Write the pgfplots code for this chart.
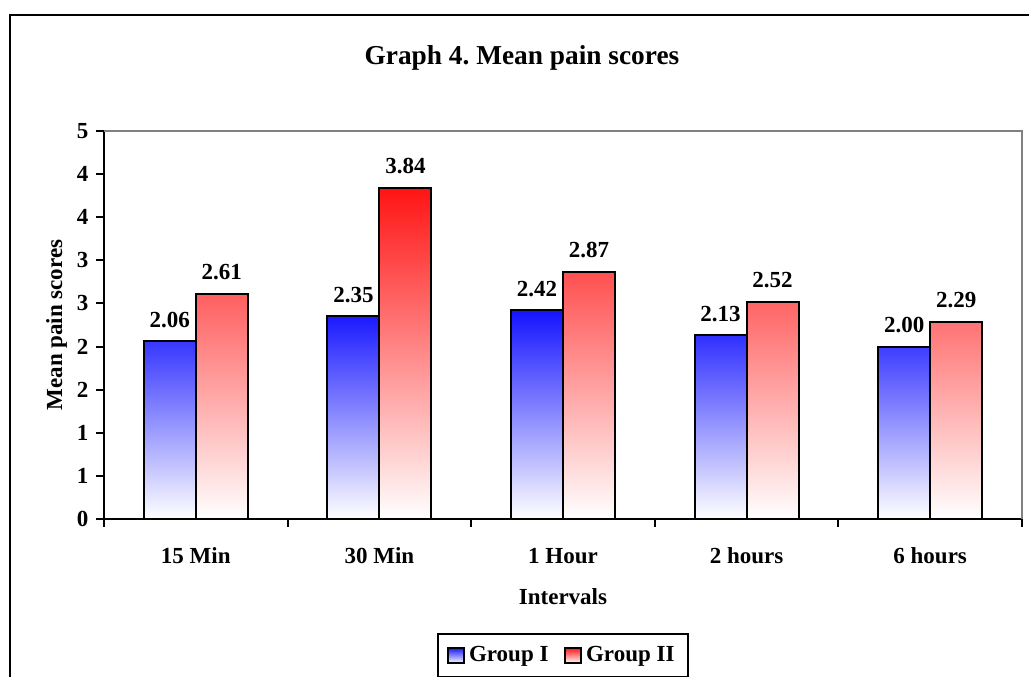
\documentclass[border=0pt]{standalone}
\usepackage{pgfplots}
\pgfplotsset{compat=1.18}
\usepackage{fontspec}
\setmainfont{Liberation Serif}
\frenchspacing

\definecolor{barblue}{RGB}{20,20,255}
\definecolor{barred}{RGB}{255,20,20}
\definecolor{framegray}{RGB}{128,128,128}

\newcommand{\lblfont}{\bfseries\fontsize{10.35}{12}\selectfont}

% small square legend swatch carrying the bar's own shading
\pgfplotsset{
  square legend/.style={
    legend image code/.code={\draw[##1, line width=0.9pt] (0pt,-3.5pt) rectangle (7pt,3.5pt);}
  }
}

\begin{document}
\begin{tikzpicture}
\begin{axis}[
  at={(0,0)}, anchor=south west,
  scale only axis, width=413.1pt, height=174.6pt,
  xmin=-0.5, xmax=4.5, ymin=0, ymax=4.5,
  clip=false,
  ybar=0pt, bar width=0.2832,
  axis x line*=bottom, axis y line*=left,
  axis line style={line width=0.9pt, -},
  tick align=outside, major tick length=3.5pt,
  tick style={line width=0.9pt, black},
  % category boundaries carry the tick marks
  xtick={-0.5,0.5,1.5,2.5,3.5,4.5},
  xticklabels={,,,,,},
  % category names sit at the centres, without marks
  extra x ticks={0,1,2,3,4},
  extra x tick labels={15 Min,30 Min,1 Hour,2 hours,6 hours},
  extra x tick style={xtick style={draw=none}},
  ytick={0,0.5,...,4.5},
  yticklabels={0,1,1,2,2,3,3,4,4,5},
  ticklabel style={font=\lblfont},
  xticklabel style={yshift=-6pt},
  title={Graph 4. Mean pain scores},
  every axis title shift=0pt,
  title style={at={(axis description cs:0.4553,1.1727)}, anchor=base,
    font=\bfseries\fontsize{12.3}{14}\selectfont},
  xlabel={Intervals},
  xlabel style={at={(axis description cs:0.5,-0.2216)}, anchor=base, font=\lblfont},
  ylabel={Mean pain scores},
  ylabel style={at={(axis description cs:-0.0455,0.5)}, anchor=base, font=\lblfont},
  legend columns=2,
  legend style={at={(axis description cs:0.5,-0.3518)}, anchor=center,
    draw=black, line width=0.9pt, font=\lblfont,
    inner xsep=4pt, inner ysep=3.5pt,
    /tikz/every even column/.append style={column sep=5pt}},
  nodes near coords,
  nodes near coords style={font=\lblfont, anchor=base, yshift=6.3pt},
  /pgf/number format/fixed,
  /pgf/number format/zerofill,
  /pgf/number format/precision=2,
  /pgf/number format/assume math mode=true,
]
\addplot[draw=black, line width=0.9pt,
  top color=barblue, bottom color=white, square legend]
  coordinates {(0,2.06) (1,2.35) (2,2.42) (3,2.13) (4,2.00)};
\addlegendentry{Group I}
\addplot[draw=black, line width=0.9pt,
  top color=barred, bottom color=white, square legend]
  coordinates {(0,2.61) (1,3.84) (2,2.87) (3,2.52) (4,2.29)};
\addlegendentry{Group II}
% plot-area border on the top and right
\draw[framegray, line width=0.9pt] (rel axis cs:0,1) -- (rel axis cs:1,1) -- (rel axis cs:1,0);
\end{axis}
% chart-area frame
\draw[line width=0.9pt] (-42.075pt,-80pt) -- (-42.075pt,226.8pt) -- (430pt,226.8pt);
\pgfresetboundingbox
\useasboundingbox (-46.8pt,-71.1pt) rectangle (416.25pt,233.55pt);
\end{tikzpicture}
\end{document}
